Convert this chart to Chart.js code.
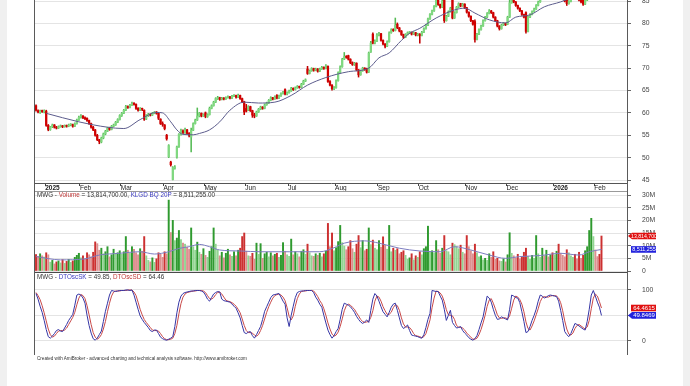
<!DOCTYPE html>
<html>
<head>
<meta charset="utf-8">
<title>MWG</title>
<script src="https://cdn.jsdelivr.net/npm/chart.js@4.4.1/dist/chart.umd.min.js"></script>
<style>
  html, body { margin: 0; padding: 0; }
  body { width: 690px; height: 386px; overflow: hidden; position: relative; background: #fff;
         font-family: "Liberation Sans", Arial, sans-serif; }
  canvas { position: absolute; left: 0; }
  .strip { position: absolute; top: 0; width: 7px; height: 386px; background: #f0f0f0; }
  .vline { position: absolute; top: 0; width: 1px; height: 355px; background: #5a5a5a; }
  .hline { position: absolute; left: 35px; width: 592px; height: 1px; }
  .caption { position: absolute; left: 37px; white-space: nowrap; line-height: 1; color: #333; }
</style>
</head>
<body>
<div class="strip" style="left:0"></div>
<div class="strip" style="left:683px"></div>
<canvas id="priceChart" width="690" height="252" style="top:-50px"></canvas>
<canvas id="volumeChart" width="690" height="119" style="top:172px"></canvas>
<canvas id="stochChart" width="690" height="122" style="top:253px"></canvas>
<div class="vline" style="left:34px"></div>
<div class="vline" style="left:627px"></div>
<div class="hline" style="top:191px; background:#9a9a9a"></div>
<div class="hline" style="top:272px; background:#4a4a4a"></div>
<div class="caption" style="top:192px; font-size:6.3px">MWG - <span style="color:#c03a3a">Volume</span> = 13,814,700.00, <span style="color:#3a3ac0">KLGD BQ 20P</span> = 8,511,255.00</div>
<div class="caption" style="top:274px; font-size:6.3px">MWG - <span style="color:#3a3ac0">DTOscSK</span> = 49.85, <span style="color:#c03a3a">DTOscSD</span> = 64.46</div>
<div class="caption" style="top:357px; font-size:4.6px">Created with AmiBroker - advanced charting and technical analysis software. http://www.amibroker.com</div>
<script>
Chart.defaults.font.family = '"Liberation Sans", Arial, sans-serif';

// trading days per month, first group = last days of Dec 2024 (no label)
const monthBars = [5, 17, 20, 21, 20, 20, 21, 23, 21, 20, 23, 20, 23, 20, 4];
const monthLabels = ["2025", "Feb", "Mar", "Apr", "May", "Jun", "Jul", "Aug", "Sep", "Oct", "Nov", "Dec", "2026", "Feb"];
const priceTicks = [45, 50, 55, 60, 65, 70, 75, 80, 85];
const volumeTicks = [0, 5, 10, 15, 20, 25, 30];
const stochTicks = [0, 50, 100];

// ================= PRICE =================
const opens = [
  61.6,60.5,60.1,60.4,60.2,
  60.4,57.2,56.3,56.9,57.3,56.8,56.6,56.9,57.1,56.9,57.2,57.0,57.3,57.4,57.0,57.6,58.4,
  59.0,59.3,58.9,58.8,58.3,57.6,56.8,56.2,55.0,54.0,53.5,54.4,55.3,55.9,56.6,56.3,57.0,57.3,57.9,58.5,
  59.4,59.9,60.6,61.4,61.2,61.7,62.1,61.9,61.0,60.6,61.0,60.6,58.6,59.4,59.7,59.5,59.9,60.2,59.9,58.6,57.6,
  57.3,55.0,50.2,49.0,45.1,47.6,50.1,52.5,55.2,56.0,55.6,56.2,55.4,54.6,56.1,57.6,58.4,59.3,59.9,59.3,
  60.0,59.2,59.6,61.0,61.6,62.4,63.2,63.4,63.0,63.3,63.1,63.4,63.6,63.3,63.7,63.9,63.5,63.9,63.2,62.5,
  61.0,60.6,61.4,60.5,59.5,59.3,60.2,60.8,61.3,61.0,61.8,62.2,62.8,63.4,63.1,63.9,63.3,63.8,64.3,65.2,64.2,
  64.5,64.9,65.5,65.2,65.6,65.9,65.7,66.4,67.1,69.8,68.8,69.4,69.9,69.5,69.8,69.3,69.8,70.2,69.9,70.4,67.0,66.2,65.4,
  65.6,67.2,69.0,70.3,72.0,72.6,72.8,72.0,71.2,70.8,71.1,69.6,68.5,69.4,70.0,69.9,69.1,73.6,77.6,75.6,76.0,
  77.4,77.7,76.2,75.4,74.9,75.9,77.9,78.6,78.4,79.8,79.0,78.3,77.5,76.9,77.5,77.9,78.0,77.6,77.9,77.4,
  77.6,77.3,78.0,78.8,79.6,81.0,82.0,82.8,83.8,85.4,84.2,83.6,86.2,80.6,81.6,82.6,86.5,81.2,82.4,83.6,84.4,83.9,84.3,
  83.5,82.5,81.6,80.6,80.4,76.4,77.6,78.6,79.4,80.6,81.4,82.2,82.8,82.4,81.4,80.6,79.4,78.8,79.6,80.0,
  79.8,81.4,84.6,85.6,84.8,84.0,83.4,82.8,82.0,82.4,78.2,81.4,82.0,82.6,83.2,84.0,84.8,85.6,86.4,86.2,86.8,86.5,87.0,
  86.8,87.2,87.6,87.3,86.4,85.6,85.2,84.4,84.9,85.8,86.2,85.8,85.6,85.2,85.2,84.3,85.2,86.4,88.2,88.8,
  89.2,88.6,88.2,87.9
];
const highs = [
  61.8,60.7,60.6,60.6,60.7,
  60.6,57.4,57.0,57.5,57.4,57.0,57.1,57.3,57.2,57.3,57.3,57.5,57.6,57.5,57.8,58.6,59.3,
  59.6,59.4,59.1,58.9,58.4,57.7,57.0,56.3,55.2,54.1,54.6,55.5,56.1,56.8,56.8,57.2,57.5,58.1,58.7,59.6,
  60.1,60.8,61.7,61.6,61.9,62.4,62.3,62.0,61.2,61.2,61.1,60.7,59.6,59.9,59.8,60.1,60.3,60.3,60.0,58.7,58.0,
  57.4,55.2,52.9,49.2,48.0,48.2,52.6,55.4,56.4,56.2,56.6,56.3,55.6,56.6,57.8,58.6,61.1,60.1,60.0,59.8,
  60.2,59.8,61.3,61.8,62.6,63.4,63.7,63.5,63.5,63.4,63.6,63.8,63.7,63.9,64.1,64.0,64.2,64.0,63.3,62.6,
  61.9,61.6,61.5,60.6,59.9,60.4,61.0,61.5,61.4,62.0,62.4,63.0,63.6,63.5,63.8,64.1,64.0,64.5,64.8,65.4,64.7,
  65.1,65.7,65.6,65.8,66.1,66.0,66.6,67.3,67.6,70.4,69.6,70.1,70.0,70.0,69.9,70.0,70.4,70.3,70.8,70.5,67.2,66.3,65.9,
  67.4,69.2,70.5,72.2,73.5,72.8,72.9,72.1,71.4,71.3,71.2,69.7,69.6,70.2,70.1,70.0,73.6,76.0,77.9,76.3,77.7,
  78.0,77.8,76.3,75.5,76.1,78.1,78.8,78.8,81.2,80.1,79.1,78.4,77.6,77.7,78.1,78.2,78.1,78.1,78.0,77.8,
  77.7,78.2,79.0,79.8,81.2,82.2,83.0,84.0,86.0,85.5,84.3,85.3,86.5,81.8,82.8,83.6,86.8,82.6,83.8,84.6,84.5,84.5,84.4,
  83.6,82.6,81.7,80.7,80.8,77.8,78.8,79.6,80.8,81.6,82.4,83.1,82.9,82.5,81.5,80.7,79.5,79.8,80.2,80.1,
  81.6,85.6,85.9,85.7,84.9,84.1,83.5,82.9,82.1,82.6,81.6,82.2,82.8,83.4,84.2,85.0,85.8,86.6,86.6,87.0,86.9,87.2,87.1,
  87.4,87.8,87.7,87.4,86.5,85.7,85.3,85.1,86.0,86.4,86.3,85.9,85.7,85.3,85.3,85.4,86.6,88.4,89.0,89.4,
  89.3,88.7,88.3,88.0
];
const lows = [
  60.4,60.0,59.9,60.1,60.0,
  57.0,56.0,56.1,56.7,56.6,56.4,56.5,56.8,56.7,56.8,56.8,56.9,57.1,56.8,56.9,57.5,58.3,
  58.8,58.7,58.5,58.1,57.4,56.6,56.0,54.8,53.8,53.1,53.3,54.2,55.1,55.8,56.1,56.2,56.9,57.2,57.8,58.4,
  59.2,59.8,60.5,61.0,61.1,61.6,61.7,60.8,60.4,60.5,60.5,58.3,58.5,59.2,59.3,59.4,59.8,59.7,58.5,57.4,57.0,
  56.2,53.9,50.0,48.1,45.0,47.4,49.9,52.3,55.0,55.3,55.4,55.2,54.6,51.3,56.0,57.5,58.3,59.1,59.1,59.2,
  58.9,59.0,59.5,60.9,61.5,62.3,63.0,62.8,62.9,62.9,63.0,63.3,63.1,63.2,63.6,63.3,63.4,63.0,62.3,59.6,
  60.2,60.5,60.3,59.0,58.9,59.2,60.1,60.7,60.8,60.9,61.7,62.1,62.7,62.9,63.0,63.1,63.2,63.7,64.2,64.0,64.0,
  64.4,64.8,65.0,65.1,65.5,65.5,65.6,66.3,67.0,68.6,68.7,69.3,69.3,69.4,69.1,69.2,69.7,69.7,69.8,66.8,66.0,65.1,65.2,
  65.5,67.1,68.9,70.2,71.9,72.2,71.8,71.0,70.6,70.6,69.4,68.0,68.4,69.3,69.5,68.9,69.0,73.5,75.4,75.4,75.9,
  77.2,76.0,75.2,74.5,74.8,75.8,77.8,78.2,78.3,78.8,78.1,77.3,76.6,76.8,77.4,77.7,77.4,77.5,77.2,77.2,
  75.6,77.2,77.9,78.7,79.5,80.9,81.9,82.7,83.7,84.0,83.4,83.5,80.2,80.5,81.5,82.5,81.0,81.1,82.3,83.5,83.7,83.8,83.3,
  82.3,81.4,80.4,79.6,75.8,76.3,77.5,78.5,79.3,80.5,81.3,82.1,82.2,81.2,80.4,79.2,78.5,78.7,79.5,79.5,
  79.7,81.3,84.5,84.6,83.8,83.2,82.6,81.8,81.2,77.8,78.1,81.3,81.9,82.5,83.1,83.9,84.7,85.5,86.0,86.1,86.3,86.4,86.6,
  86.7,87.1,87.1,86.2,85.4,84.8,84.0,84.3,84.8,85.7,85.6,85.4,85.0,84.6,84.0,84.2,85.1,86.3,88.1,88.6,
  88.4,88.0,87.7,86.8
];
const closes = [
  60.6,60.2,60.4,60.3,60.5,
  57.2,56.3,56.9,57.3,56.8,56.6,56.9,57.1,56.9,57.2,57.0,57.3,57.4,57.0,57.6,58.4,59.0,
  59.3,58.9,58.7,58.3,57.6,56.8,56.2,55.0,54.0,53.6,54.4,55.3,55.9,56.6,56.3,57.0,57.3,57.9,58.5,59.4,
  59.9,60.6,61.4,61.2,61.7,62.1,61.9,61.0,60.6,61.0,60.8,58.6,59.4,59.7,59.5,59.9,60.1,59.9,58.8,57.6,57.4,
  56.5,54.2,52.7,48.4,47.8,47.9,52.4,55.2,56.0,55.6,56.2,55.4,55.0,56.1,57.6,58.4,59.3,59.9,59.3,59.6,
  59.2,59.6,61.0,61.6,62.4,63.2,63.4,63.0,63.3,63.1,63.4,63.6,63.3,63.7,63.9,63.5,63.9,63.2,62.5,60.2,
  60.4,61.4,60.5,59.5,59.3,60.2,60.8,61.3,61.0,61.8,62.2,62.8,63.4,63.1,63.6,63.3,63.8,64.3,64.6,64.2,64.5,
  64.9,65.5,65.2,65.6,65.9,65.7,66.4,67.1,67.4,68.8,69.4,69.9,69.5,69.8,69.3,69.8,70.2,69.9,70.5,67.0,66.2,65.4,65.6,
  67.2,69.0,70.3,72.0,72.6,72.4,72.0,71.2,70.8,71.1,69.6,68.5,69.4,70.0,69.7,69.1,73.4,75.6,75.6,76.0,77.4,
  77.7,76.2,75.4,74.9,75.9,77.9,78.6,78.4,79.6,79.0,78.3,77.5,76.9,77.5,77.9,78.0,77.6,77.9,77.4,77.6,
  77.3,78.0,78.8,79.6,81.0,82.0,82.8,83.8,85.4,84.2,83.6,85.0,80.6,81.6,82.6,83.4,81.2,82.4,83.6,84.4,83.9,84.3,83.5,
  82.5,81.6,80.6,79.8,76.4,77.6,78.6,79.4,80.6,81.4,82.2,82.8,82.4,81.4,80.6,79.4,78.8,79.6,80.0,79.7,
  81.4,84.6,85.6,84.8,84.0,83.4,82.8,82.0,81.4,78.2,81.4,82.0,82.6,83.2,84.0,84.8,85.6,86.4,86.2,86.8,86.5,87.0,86.8,
  87.2,87.6,87.3,86.4,85.6,85.0,84.4,84.9,85.8,86.2,85.8,85.6,85.2,84.8,84.3,85.2,86.4,88.2,88.8,89.2,
  88.6,88.2,87.9,87.0
];
// moving average read at a few points along the line
const maIndex = [5,21,35,43,51,59,62,66,69,72,77,80,85,90,95,102,109,117,125,133,142,153,163,168,173,179,183,188,196,205,210,215,222,230,235,242,249,257,264,271,277];
const maValues = [59.9,58.0,56.8,56.5,58.5,60.1,60.0,58.0,56.2,55.2,55.1,55.4,56.2,58.0,60.6,62.4,62.2,62.4,63.9,66.2,67.9,69.2,70.0,72.3,73.4,76.2,77.8,78.9,81.2,83.0,83.4,82.3,80.8,80.1,81.4,81.9,83.7,84.8,86.0,86.8,87.4];

// ================= VOLUME (millions) =================
const volumes = [
  6.5,5.8,6.8,6.0,5.5,
  7.2,6.4,3.5,4.2,2.8,3.6,4.0,3.2,4.5,3.0,3.8,4.6,3.4,4.0,5.4,6.2,7.0,
  5.2,6.0,4.8,7.2,6.4,5.6,7.4,11.5,10.8,8.2,9.0,6.8,7.6,9.6,5.6,6.4,8.6,6.8,7.2,8.0,
  6.6,7.6,13.6,8.2,7.0,9.6,8.6,7.2,6.4,8.8,7.8,13.6,6.0,4.2,3.6,5.2,3.4,4.8,7.2,6.6,5.4,
  7.6,6.8,28.0,15.2,20.0,12.0,13.0,16.0,12.4,11.0,10.6,9.4,8.6,17.0,9.6,8.2,11.4,7.4,6.6,8.8,
  6.2,5.4,7.8,9.6,17.0,10.6,8.2,6.0,7.4,5.2,7.0,8.6,6.4,5.8,7.6,6.0,8.2,9.0,13.6,15.0,
  7.8,6.0,5.8,7.0,4.6,11.0,6.6,10.8,5.0,6.8,7.4,5.6,7.2,6.0,6.6,7.0,5.4,6.2,11.2,7.8,6.4,
  5.8,12.6,6.4,7.6,6.8,5.6,7.8,8.4,6.6,10.6,7.2,6.0,5.8,6.8,6.2,7.0,5.6,6.8,7.8,18.8,9.6,15.0,8.0,
  9.2,11.6,18.0,11.2,9.8,8.4,9.6,12.0,8.8,7.4,10.6,14.0,9.2,12.0,8.0,8.6,17.0,10.4,12.2,9.0,8.4,
  12.0,9.4,13.5,10.2,8.6,18.0,7.6,9.0,8.2,8.8,6.8,7.4,8.0,6.2,4.6,5.2,6.8,4.4,6.0,5.4,
  7.6,6.4,8.8,9.6,17.7,7.6,8.0,7.2,12.0,8.4,7.0,9.0,14.0,8.0,7.6,6.4,11.0,10.4,9.6,8.8,10.2,7.4,6.8,
  14.0,9.6,8.0,6.8,10.6,7.2,5.6,6.0,4.4,5.0,4.2,6.8,5.4,7.6,4.6,5.0,4.0,3.8,4.8,3.6,
  6.4,15.1,7.0,6.0,5.2,6.6,4.8,5.6,7.4,9.0,5.8,4.6,6.2,5.0,14.0,6.8,5.4,9.0,6.0,8.2,5.6,6.4,7.2,
  6.4,7.8,10.6,7.0,6.2,5.6,8.4,7.2,6.0,5.4,6.6,4.8,7.4,5.0,6.2,8.0,9.6,16.0,20.8,13.6,
  8.3,5.7,6.6,13.8147
];
const volMaIndex = [0,12,24,31,41,51,58,65,70,75,80,85,90,100,110,124,139,146,151,161,168,178,188,198,205,213,222,230,237,247,257,266,271,277];
const volMaValues = [5.7,4.4,4.8,6.3,7.0,7.6,6.7,7.6,8.9,9.6,10.5,9.6,8.3,7.9,7.6,7.6,7.6,9.2,11.0,11.9,11.0,9.0,7.9,7.6,9.6,8.3,6.3,5.0,5.7,6.1,7.0,6.3,7.6,8.51];

// ================= STOCHASTIC =================
const skValues = [
  93,82,68,56,40,22,8,5,9,14,
  20,22,19,18,25,32,40,46,52,70,
  90,92,90,84,74,50,30,15,4,1,
  5,12,19,38,58,74,90,99,98,97,
  98,99,99,99,100,100,99,100,90,76,
  62,49,42,36,31,26,20,18,21,21,
  14,7,4,2,1,3,5,8,28,55,
  76,88,93,95,96,97,98,98,99,99,
  99,98,96,90,82,78,85,92,95,97,
  96,82,79,78,77,76,72,68,64,55,
  45,30,16,14,17,18,10,5,12,20,
  28,42,58,67,76,85,90,91,92,93,
  86,78,72,45,28,50,68,85,95,97,
  98,98,99,99,99,99,95,86,80,72,
  66,50,35,21,12,5,10,18,24,42,
  62,74,72,70,67,62,56,48,42,37,
  34,37,41,36,60,82,93,88,78,67,
  57,52,47,56,66,72,74,60,45,30,
  24,27,31,20,11,10,9,8,6,5,
  12,26,42,54,99,98,97,97,88,80,
  62,40,50,60,36,30,25,26,28,20,
  15,11,6,3,1,4,10,22,35,47,
  68,88,84,76,62,50,42,43,47,45,
  43,41,62,90,88,85,84,75,57,38,
  16,18,28,40,50,62,78,90,88,84,
  86,89,90,89,88,87,78,60,40,18,
  12,8,14,24,34,32,29,26,23,21,
  38,62,90,99,88,76,66,49.85
];
const sdValues = [
  95,89,81,69,55,39,23,12,7,9,
  14,19,20,20,21,25,32,39,46,56,
  71,84,91,89,83,69,51,32,16,7,
  3,6,12,23,38,57,74,88,96,98,
  98,98,99,99,99,100,100,100,96,89,
  76,62,51,42,36,31,26,21,20,20,
  19,14,8,4,2,2,3,5,14,30,
  53,73,86,92,95,96,97,98,98,99,
  99,99,98,95,89,83,82,85,91,95,
  96,92,86,80,78,77,75,72,68,62,
  55,43,30,20,16,16,15,11,9,12,
  20,30,43,56,67,76,84,89,91,92,
  90,86,79,65,48,41,49,68,83,92,
  97,98,98,99,99,99,98,93,87,79,
  73,63,50,35,23,13,9,11,17,28,
  43,59,69,72,70,66,62,55,49,42,
  38,36,37,38,46,59,78,88,86,78,
  67,59,52,52,56,65,71,69,60,45,
  33,27,27,26,21,14,10,9,8,6,
  8,14,27,41,65,84,98,97,94,88,
  77,61,51,50,49,42,30,27,26,25,
  21,15,11,7,3,3,5,12,22,35,
  50,68,80,83,74,63,51,45,44,45,
  45,43,49,64,80,88,86,81,72,57,
  37,24,21,29,39,51,63,77,85,87,
  86,86,88,89,89,88,84,75,59,39,
  23,13,11,15,24,30,32,29,26,23,
  27,40,63,84,92,88,77,64.46
];

// ================= HELPERS =================
const slots = 290;
const monthStarts = [];
let start = 0;
monthBars.forEach((n, k) => {
  if (k > 0) monthStarts.push(start);
  start += n;
});

const idx = closes.map((_, i) => i);
const rising = idx.map((i) => closes[i] >= opens[i]);

function volumeColor(i) {
  const louder = i === 0 || volumes[i] >= volumes[i - 1];
  if (rising[i]) return louder ? "#2f9a2f" : "#93d593";
  return louder ? "#cc3030" : "#dd9090";
}

function rightAxis(min, max, ticks, fmt) {
  const tickOpts = { padding: 11, color: "#444", font: { size: 6.8 } };
  if (fmt) tickOpts.callback = fmt;
  return {
    position: "right",
    min: min,
    max: max,
    afterBuildTicks: (s) => { s.ticks = ticks.map((v) => ({ value: v })); },
    afterFit: (s) => { s.width = 63; },
    grid: { color: "#e4e4e4", tickColor: "#666", tickLength: 4 },
    border: { display: false },
    ticks: tickOpts,
  };
}

function hiddenX() {
  return { type: "linear", display: false, min: -0.5, max: slots - 0.5, offset: false };
}

// little value boxes on the right axis
const tagPlugin = {
  id: "lastTags",
  afterDraw(chart, args, opts) {
    const ctx = chart.ctx;
    const y = chart.scales.y;
    ctx.save();
    opts.items.forEach((t) => {
      const py = y.getPixelForValue(t.value);
      const x0 = chart.chartArea.right + 1;
      const x1 = x0 + 28;
      const h = 6.6;
      ctx.fillStyle = t.color;
      ctx.beginPath();
      if (t.arrow) {
        ctx.moveTo(x0, py);
        ctx.lineTo(x0 + 4, py - h / 2);
        ctx.lineTo(x1, py - h / 2);
        ctx.lineTo(x1, py + h / 2);
        ctx.lineTo(x0 + 4, py + h / 2);
      } else {
        ctx.rect(x0 + 3, py - h / 2, x1 - x0 - 3, h);
      }
      ctx.closePath();
      ctx.fill();
      ctx.fillStyle = "#fff";
      ctx.font = t.size + 'px "Liberation Sans", Arial, sans-serif';
      ctx.textAlign = "center";
      ctx.textBaseline = "middle";
      ctx.fillText(t.text, (x0 + 4 + x1) / 2, py + 0.4);
    });
    ctx.restore();
  },
};

const common = {
  responsive: false,
  animation: false,
  events: [],
};

// ================= PRICE CHART =================
new Chart(document.getElementById("priceChart"), {
  type: "bar",
  data: {
    datasets: [
      {
        type: "line",
        data: maIndex.map((x, k) => ({ x: x, y: maValues[k] })),
        borderColor: "#5c5c8c",
        borderWidth: 1,
        pointRadius: 0,
        cubicInterpolationMode: "monotone",
        order: 0,
      },
      {
        data: idx.map((i) => ({ x: i, y: [opens[i], closes[i]] })),
        backgroundColor: idx.map((i) => (rising[i] ? "#80d880" : "#d00000")),
        barThickness: 1.6,
        minBarLength: 1,
        grouped: false,
        order: 1,
      },
      {
        data: idx.map((i) => ({ x: i, y: [lows[i], highs[i]] })),
        backgroundColor: idx.map((i) => (rising[i] ? "#55bb55" : "#c00000")),
        barThickness: 0.9,
        grouped: false,
        order: 2,
      },
    ],
  },
  options: {
    ...common,
    layout: { padding: { left: 35, right: 0, top: 20, bottom: 10 } },
    plugins: { legend: { display: false }, tooltip: { enabled: false } },
    scales: {
      x: {
        type: "linear",
        min: -0.5,
        max: slots - 0.5,
        offset: false,
        afterBuildTicks: (s) => { s.ticks = monthStarts.map((v) => ({ value: v - 0.5 })); },
        afterFit: (s) => { s.height = 9; },
        grid: { offset: false, drawOnChartArea: false, tickLength: 3, color: "#444" },
        border: { display: true, color: "#555" },
        ticks: {
          autoSkip: false,
          maxRotation: 0,
          align: "start",
          padding: -2,
          color: "#222",
          font: (c) => ({ size: 6.5, weight: c.tick && /^\d{4}$/.test(c.tick.label) ? "bold" : "normal" }),
          callback: (v, i) => monthLabels[i],
        },
      },
      y: rightAxis(44.33, 91.93, priceTicks),
    },
  },
});

// ================= VOLUME CHART =================
new Chart(document.getElementById("volumeChart"), {
  type: "bar",
  data: {
    datasets: [
      {
        type: "line",
        data: volMaIndex.map((x, k) => ({ x: x, y: volMaValues[k] })),
        borderColor: "#7d7dc0",
        borderWidth: 1,
        pointRadius: 0,
        cubicInterpolationMode: "monotone",
        order: 0,
      },
      {
        data: idx.map((i) => ({ x: i, y: volumes[i] })),
        backgroundColor: idx.map(volumeColor),
        barThickness: 1.3,
        grouped: false,
        order: 1,
      },
    ],
  },
  options: {
    ...common,
    layout: { padding: { left: 35, right: 0, top: 20, bottom: 20 } },
    plugins: {
      legend: { display: false },
      tooltip: { enabled: false },
      lastTags: {
        items: [
          { value: 13.8147, text: "13,814,700", color: "#e01010", arrow: true, size: 5.2 },
          { value: 8.511, text: "8,511,255", color: "#2222dd", arrow: false, size: 5.4 },
        ],
      },
    },
    scales: {
      x: hiddenX(),
      y: rightAxis(0, 31.2, volumeTicks, (v) => (v === 0 ? "0" : v + "M")),
    },
  },
  plugins: [tagPlugin],
});

// ================= STOCHASTIC CHART =================
new Chart(document.getElementById("stochChart"), {
  type: "line",
  data: {
    datasets: [
      {
        data: idx.map((i) => ({ x: i, y: skValues[i] })),
        borderColor: "#3535a5",
        borderWidth: 1,
        pointRadius: 0,
        order: 0,
      },
      {
        data: idx.map((i) => ({ x: i, y: sdValues[i] })),
        borderColor: "#c84848",
        borderWidth: 1,
        pointRadius: 0,
        order: 1,
      },
    ],
  },
  options: {
    ...common,
    layout: { padding: { left: 35, right: 0, top: 20, bottom: 20 } },
    plugins: {
      legend: { display: false },
      tooltip: { enabled: false },
      lastTags: {
        items: [
          { value: 64.46, text: "64.4615", color: "#e01010", arrow: false, size: 6 },
          { value: 49.85, text: "49.8469", color: "#2222dd", arrow: true, size: 6 },
        ],
      },
    },
    scales: {
      x: hiddenX(),
      y: rightAxis(-28.2, 133.5, stochTicks),
    },
  },
  plugins: [tagPlugin],
});
</script>
</body>
</html>
